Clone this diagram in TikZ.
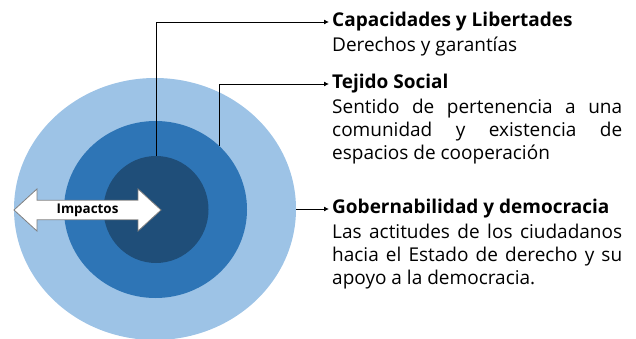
\documentclass[tikz,border=0pt]{standalone}
\usepackage{fontspec}
\setmainfont{Open Sans}
\usetikzlibrary{shapes.geometric,shapes.arrows,positioning,arrows.meta}
\definecolor{azulclaro}{HTML}{9DC3E6}
\definecolor{azulmedio}{HTML}{2E75B6}
\definecolor{azuloscuro}{HTML}{1F4E79}
\tikzset{
  anillo/.style={ellipse,inner sep=0pt,draw=none},
  titulo/.style={anchor=west,inner xsep=3pt,inner ysep=0pt,font=\fontsize{19}{23}\selectfont\bfseries},
  cuerpo/.style={anchor=north west,inner sep=0pt,text width=290pt,align=justify,font=\fontsize{19}{22.8}\selectfont},
  flecha/.style={-{Latex[length=5pt,width=5pt]},line width=0.9pt}
}
\begin{document}
\begin{tikzpicture}[x=1pt,y=-1pt]
\useasboundingbox (0,0) rectangle (636,339);
% 同心圆
\node[anillo,fill=azulclaro,minimum width=282pt,minimum height=262pt] (outer) at (155,209) {};
\node[anillo,fill=azulmedio,minimum width=183pt,minimum height=177pt] (middle) at (155.5,209.5) {};
\node[anillo,fill=azuloscuro,minimum width=105pt,minimum height=107pt] (inner) at (156,209.5) {};
% 双向箭头
\node[double arrow,draw=gray,fill=white,line width=0.8pt,minimum height=147pt,minimum width=42pt,
  double arrow head extend=10pt,double arrow tip angle=85,inner sep=2pt,
  font=\fontsize{13.4}{14}\selectfont\bfseries] (impactos) at (87.5,210) {Impactos};
% 文字
\node[titulo] (cap) at (329,22) {Capacidades y Libertades};
\node[cuerpo,below right=5.5pt and 3pt of cap.south west] (cap-txt) {Derechos y garantías};
\node[titulo] (tejido) at (329,84) {Tejido Social};
\node[cuerpo,below right=5.5pt and 3pt of tejido.south west] (tejido-txt)
  {Sentido de pertenencia a una\linebreak comunidad y existencia de\linebreak espacios de cooperación};
\node[titulo] (gob) at (329,209) {Gobernabilidad y democracia};
\node[cuerpo,below right=5.5pt and 3pt of gob.south west] (gob-txt)
  {Las actitudes de los ciudadanos\linebreak hacia el Estado de derecho y su\linebreak apoyo a la democracia.};
% 连线
\draw[flecha] (inner.north) |- (cap.west);
\draw[flecha] (middle.45) |- (tejido.west);
\draw[flecha] (outer.east) -- (gob.west);
\end{tikzpicture}
\end{document}
